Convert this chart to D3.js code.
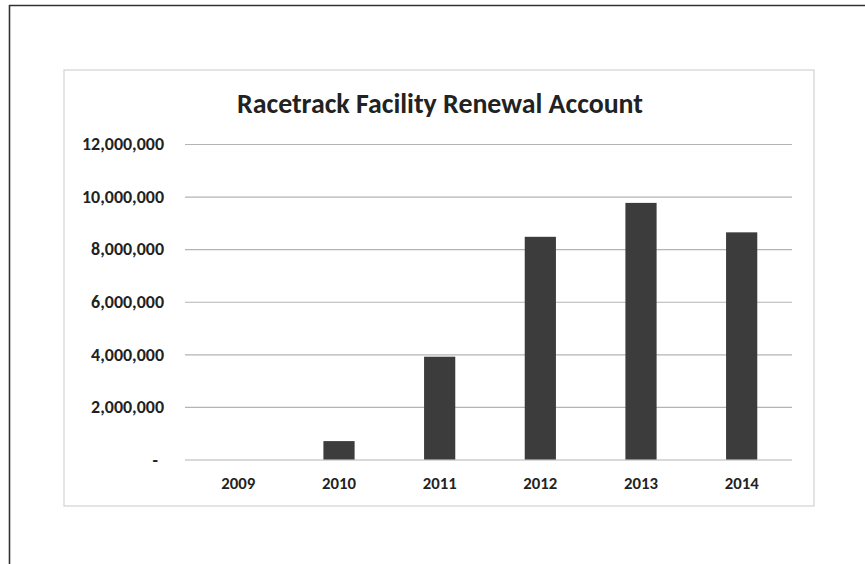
<!DOCTYPE html>
<html>
<head>
<meta charset="utf-8">
<script src="https://cdn.jsdelivr.net/npm/d3@7"></script>
<style>
  html, body { margin: 0; padding: 0; background: #fff; }
  svg { display: block; }
  text { font-family: Carlito, Lato, "Open Sans", sans-serif; font-weight: bold; fill: #222; }
</style>
</head>
<body>
<svg id="chart" width="865" height="564"></svg>
<script>
const title = "Racetrack Facility Renewal Account";
const years = ["2009", "2010", "2011", "2012", "2013", "2014"];
const balances = [0, 700000, 3910000, 8470000, 9760000, 8640000];
const yTicks = [0, 2000000, 4000000, 6000000, 8000000, 10000000, 12000000];

const svg = d3.select("#chart");

// scanned page borders (top and left edge lines)
svg.append("line").attr("x1", 9).attr("y1", 5.5).attr("x2", 865).attr("y2", 5.5)
  .attr("stroke", "#333").attr("stroke-width", 1.6);
svg.append("line").attr("x1", 9.5).attr("y1", 5).attr("x2", 9.5).attr("y2", 564)
  .attr("stroke", "#333").attr("stroke-width", 1.6);

// chart area box
svg.append("rect").attr("x", 64).attr("y", 70).attr("width", 750).attr("height", 436)
  .attr("fill", "none").attr("stroke", "#d2d2d2").attr("stroke-width", 1.2);

const x = d3.scaleBand().domain(years).range([188, 792]).paddingInner(0.69).paddingOuter(0.345);
const y = d3.scaleLinear().domain([0, 12000000]).range([459.5, 144]);

// fit a text selection's width to a target
function fitWidth(sel, target) {
  const n = sel.node();
  const fs = parseFloat(sel.attr("font-size"));
  const w = n.getComputedTextLength();
  return fs * target / w;
}

// y axis with gridlines
const fmt = d3.format(",");
const yAxis = d3.axisLeft(y).tickValues(yTicks)
  .tickSizeInner(-(792 - 185)).tickSizeOuter(0).tickPadding(21)
  .tickFormat(d => d === 0 ? "-" : fmt(d));
const gy = svg.append("g").attr("transform", "translate(185,0)").call(yAxis);
gy.select(".domain").remove();
gy.selectAll(".tick line").attr("stroke", "#b4b4b4").attr("stroke-width", 1.2);
const yLabels = gy.selectAll(".tick text").attr("font-size", 16).attr("fill", "#222")
  .attr("font-family", "Carlito, Lato, 'Open Sans', sans-serif").attr("font-weight", "bold")
  .attr("dx", d => d === 0 ? -6 : 0);
const yfs = fitWidth(yLabels.filter(d => d === 12000000), 82);
yLabels.attr("font-size", yfs);

// bars
svg.append("g").selectAll("rect").data(balances).join("rect")
  .attr("x", (d, i) => x(years[i]))
  .attr("width", x.bandwidth())
  .attr("y", d => y(d))
  .attr("height", d => y(0) - y(d))
  .attr("fill", "#3c3c3c");

// x axis labels
const xAxis = d3.axisBottom(x).tickSize(0).tickPadding(19);
const gx = svg.append("g").attr("transform", "translate(0,459.5)").call(xAxis);
gx.select(".domain").remove();
const xLabels = gx.selectAll(".tick text").attr("font-size", 15).attr("fill", "#222")
  .attr("font-family", "Carlito, Lato, 'Open Sans', sans-serif").attr("font-weight", "bold");
const xfs = fitWidth(xLabels.filter(d => d === "2013"), 34);
xLabels.attr("font-size", xfs).attr("dy", null).attr("y", 29.5);

// title, fitted to the reference width
const t = svg.append("text").attr("x", 440).attr("y", 113).attr("text-anchor", "middle")
  .attr("font-size", 24).attr("fill", "#333").text(title);
t.attr("font-size", fitWidth(t, 406));
</script>
</body>
</html>
